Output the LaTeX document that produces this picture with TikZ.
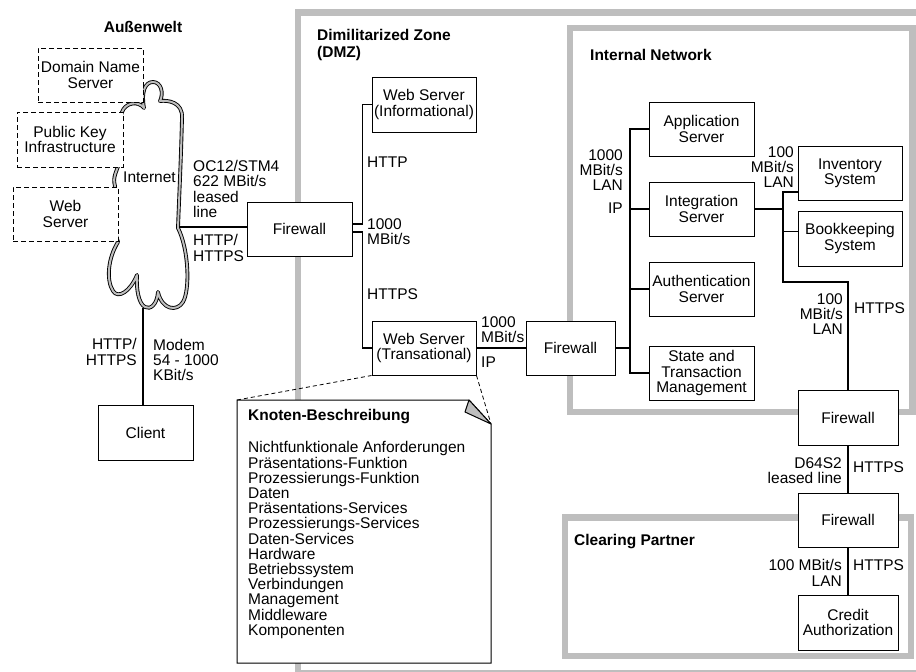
\documentclass[tikz,border=0pt]{standalone}
\usepackage{fontspec}
\setmainfont{Liberation Sans}
\definecolor{framegray}{RGB}{190,190,190}
\definecolor{cloudgray}{RGB}{190,190,190}
\begin{document}
\begin{tikzpicture}[x=1pt,y=-1pt,
  every node/.style={font=\fontsize{15.5}{15.3}\selectfont, inner sep=0pt},
  box/.style={draw, line width=1pt, fill=white, align=center},
  dbox/.style={box, dash pattern=on 5pt off 3pt},
  lab/.style={align=left, anchor=west},
  rlab/.style={align=right, anchor=east},
  head/.style={font=\fontsize{15.5}{17}\selectfont\bfseries, align=left, anchor=west},
  conn/.style={line width=1.4pt},
  zoneframe/.style={draw=framegray, line width=6.5pt},
  notelink/.style={dash pattern=on 4pt off 3pt, line width=0.8pt}
]
\useasboundingbox (0,0) rectangle (916,672);
\clip (0,0) rectangle (916,672);

% zones
\draw[zoneframe] (298,12.5) rectangle (930,673.5);
\draw[zoneframe] (570,28) rectangle (912.5,412);
\draw[zoneframe] (565,517.5) rectangle (911,656);

% cloud
\draw[line width=0.9pt, double=cloudgray, double distance=2pt, fill=white, line join=round]
  (144,108)
  .. controls (141,92) and (145,82) .. (153,82)
  .. controls (161,82) and (164,93) .. (160,101)
  .. controls (168,100) and (183,102) .. (182,118)
  .. controls (181,160) and (179,200) .. (178,228)
  .. controls (189,250) and (190,290) .. (183,302)
  .. controls (177,312) and (162,310) .. (158,292)
  .. controls (157,305) and (150,310) .. (145,307)
  .. controls (139,304) and (136,290) .. (137,275)
  .. controls (130,292) and (118,299) .. (113,291)
  .. controls (106,280) and (108,258) .. (118,242)
  .. controls (112,225) and (112,200) .. (115,186)
  .. controls (112,176) and (118,170) .. (119,162)
  .. controls (117,140) and (119,120) .. (122,112)
  .. controls (125,103) and (138,100) .. (144,108) -- cycle;
\coordinate (cloudR) at (179,227);
\coordinate (cloudB) at (143,308);

% outside world
\node[head, anchor=center] (aw) at (143,27) {Außenwelt};
\node[dbox, minimum width=105pt, minimum height=54pt] (dns) at (90.5,75) {Domain Name\\Server};
\node[dbox, minimum width=106pt, minimum height=55pt] (pki) at (70,139.5) {Public Key\\Infrastructure};
\node[dbox, minimum width=105pt, minimum height=54pt] (wsd) at (65.5,214) {Web\\Server};
\node[lab] (inet) at (123,177) {Internet};
\node[box, minimum width=95pt, minimum height=55pt] (client) at (145.5,432.5) {Client};

% DMZ
\node[head] (dmz) at (317,45) {Dimilitarized Zone\\(DMZ)};
\node[box, minimum width=105pt, minimum height=54pt] (fw1) at (299.5,229) {Firewall};
\node[box, minimum width=104pt, minimum height=55pt] (wsi) at (424,104.5) {Web Server\\(Informational)};
\node[box, minimum width=104pt, minimum height=54pt] (wst) at (424,348) {Web Server\\(Transational)};
\node[box, minimum width=89pt, minimum height=54pt] (fw2) at (570.5,348) {Firewall};

% internal network
\node[head] (inh) at (590,55) {Internal Network};
\node[box, minimum width=105pt, minimum height=54pt] (app) at (701.5,129) {Application\\Server};
\node[box, minimum width=105pt, minimum height=54pt] (integ) at (701.5,209) {Integration\\Server};
\node[box, minimum width=105pt, minimum height=54pt] (auth) at (701.5,289) {Authentication\\Server};
\node[box, minimum width=105pt, minimum height=54pt] (state) at (701.5,373) {State and\\Transaction\\Management};
\node[box, minimum width=104pt, minimum height=54pt] (inv) at (850,173) {Inventory\\System};
\node[box, minimum width=104pt, minimum height=55pt] (book) at (850,238.5) {Bookkeeping\\System};
\node[box, minimum width=100pt, minimum height=55pt] (fw3) at (848,417.5) {Firewall};

% clearing partner
\node[head] (cph) at (574,542) {Clearing Partner};
\node[box, minimum width=100pt, minimum height=54pt] (fw4) at (848,520) {Firewall};
\node[box, minimum width=100pt, minimum height=55pt] (credit) at (848,622.5) {Credit\\Authorization};

% connectors
\draw[conn] (cloudR) -- (cloudR -| fw1.west);
\draw[conn] (cloudB) -- (cloudB |- client.north);
\draw[conn] ([yshift=5pt]fw1.east) -- ++(10,0) |- (wsi.west);
\draw[conn] ([yshift=-3pt]fw1.east) -- ++(10,0) |- (wst.west);
\draw[conn] (wst.east) -- (fw2.west);
\coordinate (ib) at (630,0);
\draw[conn] (app.west) -- (app.west -| ib) -- (state.west -| ib) -- (state.west);
\draw[conn] (integ.west) -- (integ.west -| ib);
\draw[conn] (auth.west) -- (auth.west -| ib);
\draw[conn] (fw2.east) -- (fw2.east -| ib);
\coordinate (sbT) at (783,192);
\coordinate (sbB) at (783,282);
\draw[conn] (sbT -| inv.west) -- (sbT) -- (sbB) -| (fw3.north);
\draw[conn] (integ.east) -- (integ.east -| sbT);
\draw[conn] ([yshift=7pt]book.west) -- ([yshift=7pt]book.west -| sbT);
\draw[conn] (fw3.south) -- (fw4.north);
\draw[conn] (fw4.south) -- (credit.north);

% connector labels
\node[lab] (l1) at (193,189) {OC12/STM4\\622 MBit/s\\leased\\line};
\node[lab] (l2) at (193,248) {HTTP/\\HTTPS};
\node[rlab] (l3) at (137,352) {HTTP/\\HTTPS};
\node[lab] (l4) at (153,360) {Modem\\54 - 1000\\KBit/s};
\node[lab] (l5) at (367,162) {HTTP};
\node[lab] (l6) at (367,232) {1000\\MBit/s};
\node[lab] (l7) at (367,294) {HTTPS};
\node[lab] (l8) at (481,330) {1000\\MBit/s};
\node[lab] (l9) at (481,362) {IP};
\node[rlab] (l10) at (623,170) {1000\\MBit/s\\LAN};
\node[rlab] (l11) at (623,208) {IP};
\node[rlab] (l12) at (794,167) {100\\MBit/s\\LAN};
\node[rlab] (l13) at (843,314) {100\\MBit/s\\LAN};
\node[lab] (l14) at (854,308) {HTTPS};
\node[rlab] (l15) at (842,471) {D64S2\\leased line};
\node[lab] (l16) at (853,467) {HTTPS};
\node[rlab] (l17) at (842,573) {100 MBit/s\\LAN};
\node[lab] (l18) at (853,565) {HTTPS};

% note
\coordinate (nTL) at (237,400);
\coordinate (nTR) at (469,400);
\coordinate (nF) at (491,424);
\coordinate (nBR) at (491,663);
\coordinate (nBL) at (237,663);
\coordinate (nFold) at (465,412);
\draw[notelink] (nTL) -- (wst.south west);
\draw[notelink] (wst.south east) -- (nF);
\draw[line width=1pt, fill=white] (nTL) -- (nTR) -- (nF) -- (nBR) -- (nBL) -- cycle;
\draw[line width=1pt, fill=cloudgray, line join=round] (nTR) -- (nFold) -- (nF) -- cycle;
\node[lab, font=\fontsize{15.5}{15.3}\selectfont\bfseries] (ntitle) at (248,417) {Knoten-Beschreibung};
\node[lab, font=\fontsize{15.5}{15.2}\selectfont] (nlist) at (248,540) {Nichtfunktionale Anforderungen\\Präsentations-Funktion\\Prozessierungs-Funktion\\Daten\\Präsentations-Services\\Prozessierungs-Services\\Daten-Services\\Hardware\\Betriebssystem\\Verbindungen\\Management\\Middleware\\Komponenten};
\end{tikzpicture}
\end{document}
